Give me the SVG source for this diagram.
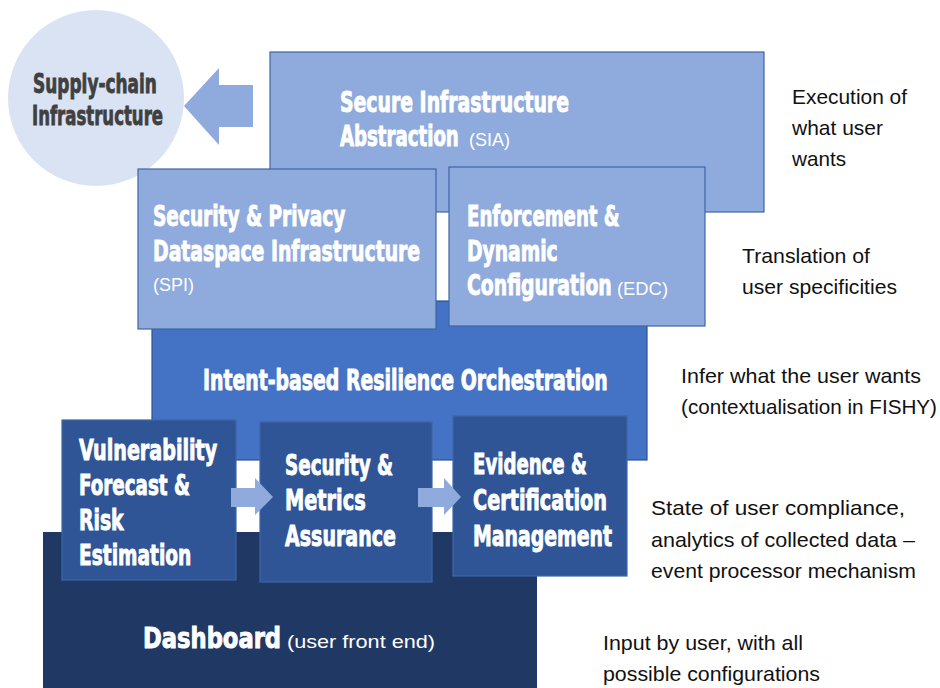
<svg xmlns="http://www.w3.org/2000/svg" width="940" height="688" viewBox="0 0 940 688">
  <style>
    .light { fill: #8faadc; stroke: #3e64a6; stroke-width: 1.2; }
    .mid { fill: #4472c4; stroke: #2f528f; stroke-width: 1.2; }
    .dark { fill: #2f5597; stroke: #3f66a6; stroke-width: 1.2; }
    .darkest { fill: #203864; stroke: none; }
    .arrow { fill: #8faadc; stroke: none; }
    .lbl { font-family: "DejaVu Sans Condensed", "DejaVu Sans", sans-serif; font-stretch: condensed; font-weight: bold; font-size: 28px; fill: #ffffff; stroke: #ffffff; stroke-width: 0.9; }
    .sub { font-family: "Liberation Sans", Arial, sans-serif; font-size: 19px; fill: #ffffff; }
    .note { font-family: "Liberation Sans", Arial, sans-serif; font-size: 21px; fill: #111111; }
    .circ { font-family: "DejaVu Sans Condensed", "DejaVu Sans", sans-serif; font-stretch: condensed; font-weight: bold; font-size: 26px; fill: #404040; stroke: #404040; stroke-width: 0.8; }
  </style>

  <g id="supply-chain">
    <circle cx="96" cy="98" r="88" fill="#dae3f3"/>
    <text class="circ" transform="translate(95,93) scale(0.72,1)" text-anchor="middle" textLength="172" lengthAdjust="spacingAndGlyphs">Supply-chain</text>
    <text class="circ" transform="translate(97.5,125) scale(0.72,1)" text-anchor="middle" textLength="182" lengthAdjust="spacingAndGlyphs">Infrastructure</text>
  </g>

  <g id="sia">
    <rect class="light" x="270" y="52" width="494" height="160"/>
    <text class="lbl" transform="translate(340,112) scale(0.72,1)" textLength="318" lengthAdjust="spacingAndGlyphs">Secure Infrastructure</text>
    <text class="lbl" transform="translate(340,146) scale(0.72,1)" textLength="165" lengthAdjust="spacingAndGlyphs">Abstraction</text>
    <text class="sub" x="469" y="146" textLength="41" lengthAdjust="spacingAndGlyphs">(SIA)</text>
  </g>

  <g id="intent">
    <rect class="mid" x="152" y="301" width="495" height="159"/>
    <text class="lbl" transform="translate(203,390) scale(0.72,1)" textLength="562" lengthAdjust="spacingAndGlyphs">Intent-based Resilience Orchestration</text>
  </g>

  <g id="spi">
    <rect class="light" x="138" y="169" width="298" height="160"/>
    <text class="lbl" transform="translate(153,226) scale(0.72,1)" textLength="267" lengthAdjust="spacingAndGlyphs">Security &amp; Privacy</text>
    <text class="lbl" transform="translate(153,261) scale(0.72,1)" textLength="371" lengthAdjust="spacingAndGlyphs">Dataspace Infrastructure</text>
    <text class="sub" x="153" y="291" textLength="41" lengthAdjust="spacingAndGlyphs">(SPI)</text>
  </g>

  <g id="edc">
    <rect class="light" x="449" y="167" width="256" height="159"/>
    <text class="lbl" transform="translate(467,226) scale(0.72,1)" textLength="212" lengthAdjust="spacingAndGlyphs">Enforcement &amp;</text>
    <text class="lbl" transform="translate(467,261) scale(0.72,1)" textLength="126" lengthAdjust="spacingAndGlyphs">Dynamic</text>
    <text class="lbl" transform="translate(467,295) scale(0.72,1)" textLength="201" lengthAdjust="spacingAndGlyphs">Configuration</text>
    <text class="sub" x="617" y="295" textLength="51" lengthAdjust="spacingAndGlyphs">(EDC)</text>
  </g>

  <g id="dashboard">
    <rect class="darkest" x="43" y="532" width="494" height="160"/>
    <text class="lbl" transform="translate(143,648) scale(0.68,1)" font-size="37" stroke-width="1.1" textLength="203" lengthAdjust="spacingAndGlyphs">Dashboard</text>
    <text class="sub" x="287" y="648" font-size="22" textLength="148" lengthAdjust="spacingAndGlyphs">(user front end)</text>
  </g>

  <g id="vulnerability">
    <rect class="dark" x="62" y="420" width="174" height="160"/>
    <text class="lbl" transform="translate(79,460) scale(0.72,1)" textLength="192" lengthAdjust="spacingAndGlyphs">Vulnerability</text>
    <text class="lbl" transform="translate(79,495) scale(0.72,1)" textLength="154" lengthAdjust="spacingAndGlyphs">Forecast &amp;</text>
    <text class="lbl" transform="translate(79,530) scale(0.72,1)" textLength="62" lengthAdjust="spacingAndGlyphs">Risk</text>
    <text class="lbl" transform="translate(79,565) scale(0.72,1)" textLength="156" lengthAdjust="spacingAndGlyphs">Estimation</text>
  </g>

  <g id="security-metrics">
    <rect class="dark" x="260" y="422" width="172" height="160"/>
    <text class="lbl" transform="translate(285,475) scale(0.72,1)" textLength="150" lengthAdjust="spacingAndGlyphs">Security &amp;</text>
    <text class="lbl" transform="translate(285,510) scale(0.72,1)" textLength="112" lengthAdjust="spacingAndGlyphs">Metrics</text>
    <text class="lbl" transform="translate(285,546) scale(0.72,1)" textLength="154" lengthAdjust="spacingAndGlyphs">Assurance</text>
  </g>

  <g id="evidence">
    <rect class="dark" x="453" y="416" width="174" height="160"/>
    <text class="lbl" transform="translate(473,474) scale(0.72,1)" textLength="158" lengthAdjust="spacingAndGlyphs">Evidence &amp;</text>
    <text class="lbl" transform="translate(473,510) scale(0.72,1)" textLength="186" lengthAdjust="spacingAndGlyphs">Certification</text>
    <text class="lbl" transform="translate(473,546) scale(0.72,1)" textLength="193" lengthAdjust="spacingAndGlyphs">Management</text>
  </g>

  <g id="connectors">
    <polygon class="arrow" points="253,85 219,85 219,68 184,106 219,145 219,127 253,127"/>
    <polygon class="arrow" points="231,488 255,488 255,478 273,497 255,515 255,507 231,507"/>
    <polygon class="arrow" points="418,488 444,488 444,478 461,497 444,515 444,507 418,507"/>
  </g>

  <g id="notes">
    <text class="note" x="792" y="104" textLength="115" lengthAdjust="spacingAndGlyphs">Execution of</text>
    <text class="note" x="792" y="135" textLength="91" lengthAdjust="spacingAndGlyphs">what user</text>
    <text class="note" x="792" y="166" textLength="54" lengthAdjust="spacingAndGlyphs">wants</text>
    <text class="note" x="742" y="263" textLength="128" lengthAdjust="spacingAndGlyphs">Translation of</text>
    <text class="note" x="742" y="294" textLength="155" lengthAdjust="spacingAndGlyphs">user specificities</text>
    <text class="note" x="681" y="383" textLength="240" lengthAdjust="spacingAndGlyphs">Infer what the user wants</text>
    <text class="note" x="681" y="414" textLength="256" lengthAdjust="spacingAndGlyphs">(contextualisation in FISHY)</text>
    <text class="note" x="651" y="515" textLength="254" lengthAdjust="spacingAndGlyphs">State of user compliance,</text>
    <text class="note" x="651" y="547" textLength="264" lengthAdjust="spacingAndGlyphs">analytics of collected data –</text>
    <text class="note" x="651" y="578" textLength="265" lengthAdjust="spacingAndGlyphs">event processor mechanism</text>
    <text class="note" x="603" y="650" textLength="200" lengthAdjust="spacingAndGlyphs">Input by user, with all</text>
    <text class="note" x="603" y="681" textLength="217" lengthAdjust="spacingAndGlyphs">possible configurations</text>
  </g>
</svg>
